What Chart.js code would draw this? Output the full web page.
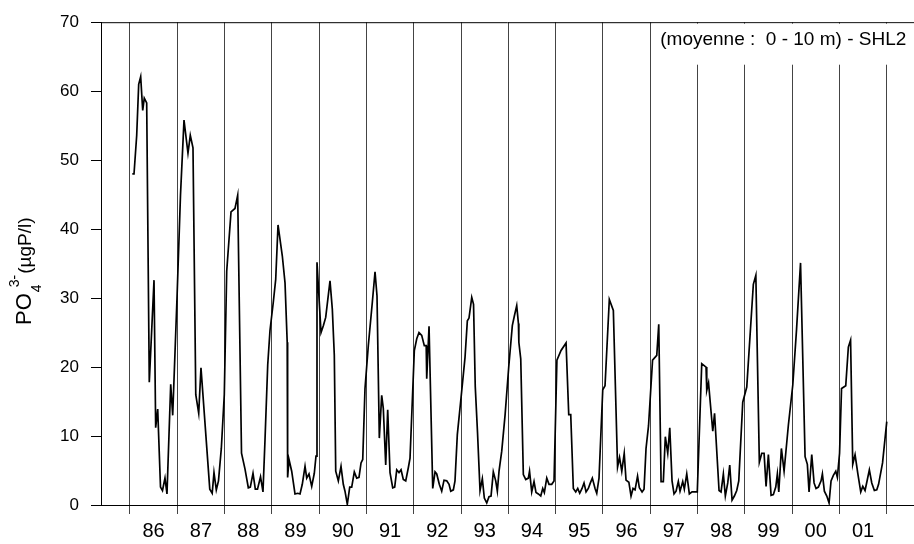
<!DOCTYPE html>
<html>
<head>
<meta charset="utf-8">
<script src="https://cdn.jsdelivr.net/npm/chart.js@4"></script>
<style>
  html, body { margin: 0; padding: 0; background: #fff; }
  canvas { display: block; }
</style>
</head>
<body>
<canvas id="chart" width="914" height="544"></canvas>
<script>
// ==================== DATOS: PO4 (moyenne 0 - 10 m) - SHL2 ====================

// dates en années décimales (prélèvements)
const dates = [
  1986.049, 1986.085, 1986.142, 1986.184, 1986.226, 1986.269, 1986.302, 1986.353, 1986.408, 1986.508,
  1986.543, 1986.586, 1986.645, 1986.687, 1986.740, 1986.782, 1986.861, 1986.903, 1986.994,
  1987.068, 1987.142, 1987.226, 1987.275, 1987.332, 1987.391, 1987.453, 1987.501, 1987.687, 1987.738,
  1987.776, 1987.825, 1987.871, 1987.931, 1987.994,
  1988.045, 1988.136, 1988.220, 1988.277, 1988.358, 1988.432, 1988.502, 1988.544, 1988.601, 1988.650,
  1988.696, 1988.760, 1988.812, 1988.855, 1988.912, 1988.960,
  1989.030, 1989.081, 1989.130, 1989.221, 1989.278, 1989.324, 1989.333, 1989.362, 1989.419, 1989.489,
  1989.546, 1989.595, 1989.643, 1989.701, 1989.737, 1989.785, 1989.842, 1989.897, 1989.933, 1989.954,
  1990.039, 1990.088, 1990.138, 1990.229, 1990.278, 1990.320, 1990.350, 1990.405, 1990.462, 1990.510,
  1990.546, 1990.595, 1990.646, 1990.688, 1990.743, 1990.794, 1990.842, 1990.885, 1990.921, 1990.969,
  1991.039, 1991.124, 1991.181, 1991.223, 1991.272, 1991.322, 1991.356, 1991.407, 1991.449, 1991.498,
  1991.555, 1991.597, 1991.640, 1991.688, 1991.731, 1991.779, 1991.830, 1991.885, 1991.921,
  1992.012, 1992.063, 1992.111, 1992.168, 1992.223, 1992.263, 1992.274, 1992.323, 1992.401, 1992.450,
  1992.486, 1992.540, 1992.591, 1992.640, 1992.697, 1992.746, 1992.782, 1992.837, 1992.872, 1992.921, 1992.999,
  1993.084, 1993.133, 1993.168, 1993.226, 1993.264, 1993.300, 1993.348, 1993.401, 1993.450, 1993.492,
  1993.543, 1993.591, 1993.634, 1993.682, 1993.733, 1993.767, 1993.803, 1993.860, 1993.930,
  1994.008, 1994.084, 1994.127, 1994.177, 1994.213, 1994.222, 1994.262, 1994.317, 1994.368, 1994.423,
  1994.448, 1994.494, 1994.543, 1994.585, 1994.634, 1994.685, 1994.727, 1994.761, 1994.812, 1994.860,
  1994.917, 1994.966,
  1995.027, 1995.114, 1995.220, 1995.277, 1995.319, 1995.374, 1995.425, 1995.467, 1995.509, 1995.558,
  1995.600, 1995.643, 1995.691, 1995.734, 1995.776, 1995.833, 1995.869, 1995.917, 1995.996,
  1996.044, 1996.135, 1996.220, 1996.309, 1996.351, 1996.398, 1996.450, 1996.488, 1996.548, 1996.594,
  1996.636, 1996.679, 1996.732, 1996.770, 1996.827, 1996.869, 1996.911, 1996.964,
  1997.049, 1997.138, 1997.180, 1997.229, 1997.277, 1997.319, 1997.370, 1997.413, 1997.461, 1997.503,
  1997.546, 1997.594, 1997.630, 1997.687, 1997.721, 1997.772, 1997.827, 1997.884, 1997.962, 1997.995,
  1998.089, 1998.180, 1998.195, 1998.233, 1998.322, 1998.360, 1998.455, 1998.497, 1998.546, 1998.588,
  1998.639, 1998.681, 1998.730, 1998.779, 1998.829, 1998.872, 1998.956,
  1999.041, 1999.180, 1999.233, 1999.307, 1999.358, 1999.407, 1999.449, 1999.498, 1999.555, 1999.603,
  1999.654, 1999.688, 1999.718, 1999.773, 1999.830, 1999.921,
  2000.014, 2000.094, 2000.178, 2000.274, 2000.322, 2000.358, 2000.415, 2000.464, 2000.506, 2000.555,
  2000.612, 2000.640, 2000.682, 2000.733, 2000.781, 2000.823, 2000.872, 2000.923, 2000.957,
  2001.003, 2001.045, 2001.134, 2001.189, 2001.236, 2001.282, 2001.331, 2001.390, 2001.451, 2001.494,
  2001.542, 2001.591, 2001.633, 2001.684, 2001.739, 2001.790, 2001.828, 2001.912, 2002.001
];

// PO4 3- (µgP/l)
const po4 = [
  48.0, 48.0, 53.6, 61.0, 62.1, 57.2, 59.0, 58.3, 17.8, 32.6,
  11.2, 13.9, 2.6, 2.1, 3.9, 1.6, 17.5, 13.0, 30.0,
  45.0, 55.8, 51.0, 53.6, 51.8, 16.0, 13.3, 19.9, 2.3, 1.7,
  4.7, 2.2, 3.5, 8.2, 16.0,
  33.9, 42.5, 43.0, 44.9, 7.5, 5.2, 2.5, 2.6, 4.6, 2.3,
  2.3, 4.1, 1.9, 9.5, 20.3, 25.3,
  29.4, 32.7, 40.6, 36.1, 32.2, 23.6, 4.0, 6.6, 4.9, 1.6,
  1.7, 1.6, 3.0, 5.6, 3.9, 4.5, 2.7, 4.6, 7.1, 35.2,
  25.0, 26.0, 27.2, 32.5, 28.4, 21.7, 4.9, 3.5, 5.6, 3.0,
  2.0, 0.1, 2.6, 2.6, 4.8, 3.9, 4.0, 6.1, 6.6, 16.9,
  23.1, 29.4, 33.8, 30.3, 9.7, 15.9, 14.0, 5.8, 13.8, 4.7,
  2.5, 2.6, 5.1, 4.7, 5.1, 3.7, 3.5, 5.4, 6.8,
  22.4, 24.1, 25.0, 24.6, 23.1, 23.1, 18.3, 25.9, 2.4, 4.8,
  4.5, 3.0, 2.0, 3.6, 3.5, 3.0, 2.0, 2.2, 3.5, 10.2, 15.5,
  21.4, 26.7, 27.1, 30.1, 29.1, 17.2, 10.5, 2.1, 3.8, 1.0,
  0.3, 1.2, 1.3, 4.8, 3.5, 2.0, 4.9, 7.8, 13.0,
  20.0, 26.0, 27.4, 28.9, 26.3, 23.6, 21.2, 4.4, 3.7, 3.9,
  4.9, 1.9, 3.4, 1.8, 1.6, 1.3, 2.4, 1.8, 3.9, 3.0,
  3.0, 3.5,
  21.0, 22.4, 23.5, 13.1, 13.1, 2.4, 1.9, 2.4, 1.7, 2.4,
  3.2, 1.9, 2.4, 3.2, 3.9, 2.4, 1.7, 3.9, 16.7,
  17.3, 29.8, 28.2, 5.5, 6.9, 4.9, 7.5, 3.6, 3.3, 1.3,
  2.4, 2.2, 4.2, 2.5, 1.9, 2.3, 8.2, 11.5,
  21.0, 21.7, 26.2, 3.4, 3.4, 9.9, 7.5, 11.2, 3.5, 1.6,
  2.0, 3.4, 2.0, 3.4, 2.3, 4.5, 1.6, 1.9, 1.9, 1.9,
  20.5, 20.0, 16.6, 17.7, 10.7, 13.3, 2.1, 1.9, 4.5, 1.3,
  3.2, 5.8, 0.7, 1.3, 2.1, 3.5, 14.9,
  17.1, 32.0, 33.3, 6.2, 7.5, 7.5, 2.7, 7.3, 1.4, 1.5,
  2.6, 4.5, 1.9, 8.2, 4.9, 11.6,
  17.4, 25.5, 35.1, 7.0, 5.9, 1.9, 7.3, 3.2, 2.4, 2.6,
  3.5, 4.5, 2.0, 1.3, 0.3, 3.5, 4.3, 4.9, 4.0,
  7.5, 16.9, 17.3, 22.9, 23.9, 5.9, 7.3, 4.5, 1.9, 2.7,
  2.1, 3.7, 5.1, 3.2, 2.1, 2.2, 3.0, 6.1, 12.1
];

// limites des années (traits verticaux) et étiquettes
const yearTicks = [1986, 1987, 1988, 1989, 1990, 1991, 1992, 1993, 1994, 1995, 1996, 1997, 1998, 1999, 2000, 2001, 2002];
const yearLabels = ['86', '87', '88', '89', '90', '91', '92', '93', '94', '95', '96', '97', '98', '99', '00', '01'];
const yTicks = [0, 10, 20, 30, 40, 50, 60, 70];
const annotationText = '(moyenne :  0 - 10 m) - SHL2';

const FONT = "'Liberation Sans', Arial, Helvetica, sans-serif";
Chart.defaults.font.family = FONT;
Chart.defaults.color = '#000';

// Cadre du haut, cartouche et titre de l'axe Y
const decorPlugin = {
  id: 'decor',
  afterDraw(chart) {
    const { ctx, chartArea: a } = chart;
    const xs = chart.scales.x;
    ctx.save();

    // trait du haut
    ctx.strokeStyle = '#000';
    ctx.lineWidth = 1;
    ctx.beginPath();
    ctx.moveTo(a.left, a.top + 0.5);
    ctx.lineTo(a.right, a.top + 0.5);
    ctx.stroke();

    // cartouche blanc qui masque le haut des traits (98 -> 02)
    const boxLeft = xs.getPixelForValue(1997) + 2;
    ctx.fillStyle = '#fff';
    ctx.fillRect(boxLeft, a.top + 1.5, a.right - boxLeft, 41);
    ctx.fillStyle = '#000';
    ctx.font = '19px ' + FONT;
    ctx.textBaseline = 'alphabetic';
    ctx.textAlign = 'left';
    ctx.fillText(annotationText, boxLeft + 8, 45);

    // titre Y : PO4 3-(µgP/l)
    ctx.translate(31, 325);
    ctx.rotate(-Math.PI / 2);
    ctx.font = '22px ' + FONT;
    ctx.fillText('PO', 0, 0);
    const w1 = ctx.measureText('PO').width;
    ctx.font = '14px ' + FONT;
    ctx.fillText('4', w1 + 1, 10);
    ctx.fillText('3-', w1 + 6, -12);
    const w2 = ctx.measureText('3-').width;
    ctx.font = '19px ' + FONT;
    ctx.fillText('(µgP/l)', w1 + 7 + w2, 0);
    ctx.restore();
  }
};

new Chart(document.getElementById('chart'), {
  type: 'line',
  data: {
    datasets: [{
      data: dates.map((d, i) => ({ x: d, y: po4[i] })),
      borderColor: '#000',
      borderWidth: 1.7,
      pointRadius: 0,
      tension: 0,
      fill: false
    }]
  },
  options: {
    responsive: false,
    animation: false,
    devicePixelRatio: 1,
    layout: { autoPadding: false, padding: { top: 17, left: 0, right: 0, bottom: 0 } },
    plugins: { legend: { display: false }, tooltip: { enabled: false } },
    scales: {
      x: {
        type: 'linear',
        min: 1985.387,
        max: 2002.577,
        afterBuildTicks: axis => { axis.ticks = yearTicks.map(v => ({ value: v })); },
        afterFit: s => { s.height = 39; },
        grid: { color: '#444', lineWidth: 1, tickLength: 9, drawOnChartArea: true },
        border: { display: true, color: '#000', width: 1 },
        ticks: {
          autoSkip: false,
          maxRotation: 0,
          labelOffset: 23.6,
          padding: 5,
          font: { size: 20 },
          color: '#000',
          callback: v => yearLabels[yearTicks.indexOf(v)] || ''
        }
      },
      y: {
        min: 0,
        max: 70,
        afterBuildTicks: axis => { axis.ticks = yTicks.map(v => ({ value: v })); },
        afterFit: s => { s.width = 101; },
        grid: { drawOnChartArea: false, tickLength: 10, color: '#000' },
        border: { display: true, color: '#000', width: 1 },
        ticks: { padding: 12, font: { size: 17 }, color: '#000' }
      }
    }
  },
  plugins: [decorPlugin]
});
</script>
</body>
</html>
